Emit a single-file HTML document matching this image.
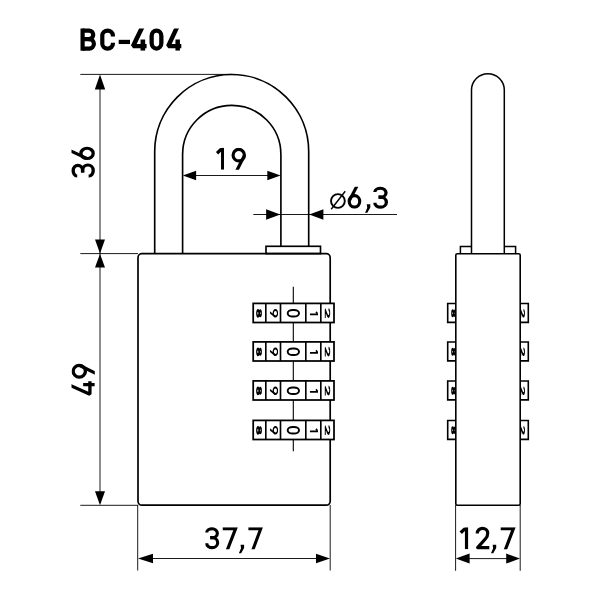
<!DOCTYPE html>
<html>
<head>
<meta charset="utf-8">
<title>BC-404</title>
<style>
html,body{margin:0;padding:0;background:#fff;}
body{width:600px;height:599px;overflow:hidden;font-family:"Liberation Sans",sans-serif;}
svg{display:block;}
svg text{font-family:"Liberation Sans",sans-serif;fill:#000;}
</style>
</head>
<body>
<svg width="600" height="599" viewBox="0 0 600 599">
<rect x="0" y="0" width="600" height="599" fill="#fff"/>
<defs><clipPath id="gc"><rect x="-20" y="0" width="140" height="100"/></clipPath><clipPath id="tabL"><rect x="440" y="0" width="15.4" height="599"/></clipPath></defs>
<!-- title -->
<g transform="translate(80.50,28.50) scale(0.2214,0.2220)"><g fill="none" stroke="#000" stroke-width="19.0" stroke-linecap="butt"><path d="M9.5,0 V100"/><path d="M9.5,9.5 H38.5 A19.0,19.0 0 0 1 38.5,47.5 H9.5"/><path d="M36.5,47.5 H39.0 A21.5,21.5 0 0 1 39.0,90.5 H9.5"/></g></g>
<g transform="translate(100.20,28.50) scale(0.2209,0.2220)"><g fill="none" stroke="#000" stroke-width="19.0" stroke-linecap="butt"><path d="M57.5,35.5 V31.5 A24.0,22 0 0 0 9.5,31.5 V68.5 A24.0,22 0 0 0 57.5,68.5 V64.5"/></g></g>
<g transform="translate(118.70,28.50) scale(0.2173,0.2220)"><g fill="none" stroke="#000" stroke-width="19.0" stroke-linecap="butt"><path d="M0,60.5 H52"/></g></g>
<g transform="translate(131.00,28.50) scale(0.2437,0.2220)"><g clip-path="url(#gc)"><g fill="none" stroke="#000" stroke-width="19.0" stroke-linecap="butt"><path d="M46.08,-6 L8.55,79 H64" stroke-linejoin="bevel"/><path d="M48.64,50 V100"/></g></g></g>
<g transform="translate(149.50,28.50) scale(0.2258,0.2220)"><g fill="none" stroke="#000" stroke-width="19.0" stroke-linecap="butt"><rect x="9.5" y="9.5" width="43.0" height="81.0" rx="21.5" ry="24.724999999999998"/></g></g>
<g transform="translate(166.20,28.50) scale(0.2359,0.2220)"><g clip-path="url(#gc)"><g fill="none" stroke="#000" stroke-width="19.0" stroke-linecap="butt"><path d="M46.08,-6 L8.55,79 H64" stroke-linejoin="bevel"/><path d="M48.64,50 V100"/></g></g></g>
<!-- extension lines (front, vertical dims) -->
<g stroke="#000" stroke-width="0.9" fill="none">
<line x1="80.3" y1="74.4" x2="232" y2="74.4"/>
<line x1="80.3" y1="253.6" x2="138" y2="253.6"/>
<line x1="80.3" y1="505.3" x2="138" y2="505.3"/>
<line x1="137.7" y1="505" x2="137.7" y2="570.5"/>
<line x1="330.2" y1="505" x2="330.2" y2="570.5"/>
<line x1="455.6" y1="505" x2="455.6" y2="570.8"/>
<line x1="520.2" y1="505" x2="520.2" y2="570.8"/>
</g>
<!-- dimension lines -->
<g stroke="#000" stroke-width="0.9" fill="none">
<line x1="100" y1="80" x2="100" y2="500"/>
<line x1="190" y1="175.5" x2="275" y2="175.5"/>
<line x1="253.3" y1="214.5" x2="397" y2="214.5"/>
<line x1="145" y1="558.5" x2="324" y2="558.5"/>
<line x1="462" y1="558.6" x2="514" y2="558.6"/>
</g>
<!-- arrows -->
<polygon points="100.00,74.60 94.80,89.60 105.20,89.60" fill="#000"/>
<polygon points="100.00,253.50 95.00,239.50 105.00,239.50" fill="#000"/>
<polygon points="100.00,253.90 95.00,267.40 105.00,267.40" fill="#000"/>
<polygon points="100.00,505.20 95.00,491.20 105.00,491.20" fill="#000"/>
<polygon points="182.80,175.50 196.10,170.70 196.10,180.30" fill="#000"/>
<polygon points="280.60,175.50 267.30,170.70 267.30,180.30" fill="#000"/>
<polygon points="280.30,214.50 266.10,209.20 266.10,219.80" fill="#000"/>
<polygon points="309.20,214.50 323.40,209.20 323.40,219.80" fill="#000"/>
<polygon points="138.00,558.50 153.00,553.70 153.00,563.30" fill="#000"/>
<polygon points="330.00,558.50 316.00,553.70 316.00,563.30" fill="#000"/>
<polygon points="455.80,558.60 469.60,553.60 469.60,563.60" fill="#000"/>
<polygon points="520.00,558.60 506.20,553.60 506.20,563.60" fill="#000"/>
<!-- dim texts -->
<g transform="translate(216.30,147.80) scale(0.2081,0.2200)"><g clip-path="url(#gc)"><g fill="none" stroke="#000" stroke-width="14.3" stroke-linecap="butt"><path d="M29.85,0 V100"/><path d="M24.700000000000003,5.362500000000001 L3.575,25" stroke-width="15.444000000000003"/></g></g></g><g transform="translate(231.50,147.80) scale(0.2231,0.2200)"><g clip-path="url(#gc)"><g fill="none" stroke="#000" stroke-width="14.3" stroke-linecap="butt"><ellipse cx="32.5" cy="33.45" rx="25.35" ry="26.3"/><path d="M57.550000000000004,35.45 L23.4,104"/></g></g></g>
<g transform="translate(347.60,186.70) scale(0.2210,0.2200)"><g clip-path="url(#gc)"><g fill="none" stroke="#000" stroke-width="14.3" stroke-linecap="butt"><ellipse cx="31.0" cy="66.55" rx="23.85" ry="26.3"/><path d="M7.45,64.55 L42.779999999999994,-4"/></g></g></g><g transform="translate(365.10,186.70) scale(0.2364,0.2200)"><g fill="none" stroke="#000" stroke-width="14.3" stroke-linecap="butt"><polygon points="7,80 22,80 22,95 9.5,118 0,118 9,96" fill="#000" stroke="none"/></g></g><g transform="translate(373.30,186.70) scale(0.2297,0.2200)"><g fill="none" stroke="#000" stroke-width="14.3" stroke-linecap="butt"><path d="M7.15,24.325000000000003 V23.325000000000003 A24.85,16.185000000000002 0 0 1 32.0,7.15 A23.35,20.175 0 0 1 32.0,47.5 H23.0"/><path d="M23.0,47.5 H32.0 A24.85,22.674999999999997 0 0 1 32.0,92.85 A24.85,17.674999999999997 0 0 1 7.15,74.175 V73.175"/></g></g>
<circle cx="337.9" cy="201" r="6.9" fill="none" stroke="#000" stroke-width="1.9"/>
<line x1="331.2" y1="209.2" x2="345.2" y2="191.2" stroke="#000" stroke-width="1.4"/>
<g transform="translate(205.25,527.20) scale(0.2188,0.2200)"><g fill="none" stroke="#000" stroke-width="14.3" stroke-linecap="butt"><path d="M7.15,24.325000000000003 V23.325000000000003 A24.85,16.185000000000002 0 0 1 32.0,7.15 A23.35,20.175 0 0 1 32.0,47.5 H23.0"/><path d="M23.0,47.5 H32.0 A24.85,22.674999999999997 0 0 1 32.0,92.85 A24.85,17.674999999999997 0 0 1 7.15,74.175 V73.175"/></g></g><g transform="translate(222.75,527.20) scale(0.2238,0.2200)"><g clip-path="url(#gc)"><g fill="none" stroke="#000" stroke-width="14.3" stroke-linecap="butt"><path d="M0,7.15 H57.135 L19.5,106" stroke-linejoin="miter" stroke-miterlimit="3"/></g></g></g><g transform="translate(238.90,527.20) scale(0.2364,0.2200)"><g fill="none" stroke="#000" stroke-width="14.3" stroke-linecap="butt"><polygon points="7,80 22,80 22,95 9.5,118 0,118 9,96" fill="#000" stroke="none"/></g></g><g transform="translate(248.40,527.20) scale(0.2154,0.2200)"><g clip-path="url(#gc)"><g fill="none" stroke="#000" stroke-width="14.3" stroke-linecap="butt"><path d="M0,7.15 H57.135 L19.5,106" stroke-linejoin="miter" stroke-miterlimit="3"/></g></g></g>
<g transform="translate(459.90,527.20) scale(0.2216,0.2200)"><g clip-path="url(#gc)"><g fill="none" stroke="#000" stroke-width="14.3" stroke-linecap="butt"><path d="M29.85,0 V100"/><path d="M24.700000000000003,5.362500000000001 L3.575,25" stroke-width="15.444000000000003"/></g></g></g><g transform="translate(475.70,527.20) scale(0.2230,0.2200)"><g fill="none" stroke="#000" stroke-width="14.3" stroke-linecap="butt"><path d="M7.15,28.15 V27.15 A23.35,22 0 0 1 53.85,27.15 C53.85,39.15 50.85,44.15 44.85,51.15 L8.65,92.85 H61" stroke-linejoin="round"/></g></g><g transform="translate(491.00,527.20) scale(0.2364,0.2200)"><g fill="none" stroke="#000" stroke-width="14.3" stroke-linecap="butt"><polygon points="7,80 22,80 22,95 9.5,118 0,118 9,96" fill="#000" stroke="none"/></g></g><g transform="translate(500.70,527.20) scale(0.2215,0.2200)"><g clip-path="url(#gc)"><g fill="none" stroke="#000" stroke-width="14.3" stroke-linecap="butt"><path d="M0,7.15 H57.135 L19.5,106" stroke-linejoin="miter" stroke-miterlimit="3"/></g></g></g>
<g transform="translate(71.5,178) rotate(-90)"><g transform="translate(0.40,0.00) scale(0.2219,0.2340)"><g fill="none" stroke="#000" stroke-width="14.3" stroke-linecap="butt"><path d="M7.15,24.325000000000003 V23.325000000000003 A24.85,16.185000000000002 0 0 1 32.0,7.15 A23.35,20.175 0 0 1 32.0,47.5 H23.0"/><path d="M23.0,47.5 H32.0 A24.85,22.674999999999997 0 0 1 32.0,92.85 A24.85,17.674999999999997 0 0 1 7.15,74.175 V73.175"/></g></g><g transform="translate(17.90,0.00) scale(0.2161,0.2340)"><g clip-path="url(#gc)"><g fill="none" stroke="#000" stroke-width="14.3" stroke-linecap="butt"><ellipse cx="31.0" cy="66.55" rx="23.85" ry="26.3"/><path d="M7.45,64.55 L42.779999999999994,-4"/></g></g></g></g>
<g transform="translate(71.5,396) rotate(-90)"><g transform="translate(0.20,0.00) scale(0.2273,0.2330)"><g clip-path="url(#gc)"><g fill="none" stroke="#000" stroke-width="14.3" stroke-linecap="butt"><path d="M46.08,-6 L6.4350000000000005,79 H64" stroke-linejoin="bevel"/><path d="M48.64,50 V100"/></g></g></g><g transform="translate(17.25,0.00) scale(0.2308,0.2330)"><g clip-path="url(#gc)"><g fill="none" stroke="#000" stroke-width="14.3" stroke-linecap="butt"><ellipse cx="32.5" cy="33.45" rx="25.35" ry="26.3"/><path d="M57.550000000000004,35.45 L23.4,104"/></g></g></g></g>
<!-- front view -->
<g stroke="#000" stroke-width="1.65" fill="none">
<path d="M154.7,253.5 V151.5 A77,77 0 0 1 308.7,151.5 V246.3"/>
<path d="M182.6,253.5 V154.5 A49.15,49.15 0 0 1 280.9,154.5 V246.3"/>
<rect x="266" y="246.3" width="54.5" height="7.3" fill="#fff"/>
<rect x="138" y="253.7" width="192.2" height="251.5" rx="4" ry="4" stroke-width="1.7"/>
</g>
<g stroke="#000" stroke-width="1.1">
<line x1="293.3" y1="286.7" x2="293.3" y2="451.3"/>
</g>
<rect x="253.2" y="303.4" width="80.80000000000001" height="19.1" fill="#fff" stroke="#000" stroke-width="1.75"/>
<line x1="265.8" y1="303.4" x2="265.8" y2="322.5" stroke="#000" stroke-width="1.65"/>
<line x1="280.5" y1="303.4" x2="280.5" y2="322.5" stroke="#000" stroke-width="1.65"/>
<line x1="305.8" y1="303.4" x2="305.8" y2="322.5" stroke="#000" stroke-width="1.65"/>
<line x1="320.8" y1="303.4" x2="320.8" y2="322.5" stroke="#000" stroke-width="1.65"/>
<g transform="translate(261.9,308.90) rotate(90)"><g transform="translate(0.00,0.00) scale(0.1375,0.0580)"><g fill="none" stroke="#000" stroke-width="22" stroke-linecap="butt"><ellipse cx="32.0" cy="29.0" rx="18.5" ry="18.0"/><ellipse cx="32.0" cy="68.0" rx="21.0" ry="21.0"/></g></g></g>
<g transform="translate(278.2,309.00) rotate(90)"><g transform="translate(0.00,0.00) scale(0.1323,0.0830)"><g clip-path="url(#gc)"><g fill="none" stroke="#000" stroke-width="15" stroke-linecap="butt"><ellipse cx="32.5" cy="33.8" rx="25.0" ry="26.3"/><path d="M57.2,35.8 L23.4,104"/></g></g></g></g>
<g transform="translate(300.0,309.00) rotate(90)"><g transform="translate(0.00,0.00) scale(0.1387,0.1330)"><g fill="none" stroke="#000" stroke-width="14.5" stroke-linecap="butt"><rect x="7.25" y="7.25" width="47.5" height="85.5" rx="23.75" ry="38.0"/></g></g></g>
<g transform="translate(318.0,311.50) rotate(90)"><g transform="translate(0.00,0.00) scale(0.1027,0.0820)"><g clip-path="url(#gc)"><g fill="none" stroke="#000" stroke-width="17" stroke-linecap="butt"><path d="M28.5,0 V100"/><path d="M22.0,6.375 L4.25,25" stroke-width="18.36"/></g></g></g></g>
<g transform="translate(330.1,308.20) rotate(90)"><g transform="translate(0.00,0.00) scale(0.1607,0.0530)"><g fill="none" stroke="#000" stroke-width="18" stroke-linecap="butt"><path d="M9.0,30.0 V29.0 A21.5,22 0 0 1 52.0,29.0 C52.0,41.0 49.0,46.0 43.0,53.0 L10.5,91.0 H61" stroke-linejoin="round"/></g></g></g>
<rect x="253.2" y="341.9" width="80.80000000000001" height="19.1" fill="#fff" stroke="#000" stroke-width="1.75"/>
<line x1="265.8" y1="341.9" x2="265.8" y2="361.0" stroke="#000" stroke-width="1.65"/>
<line x1="280.5" y1="341.9" x2="280.5" y2="361.0" stroke="#000" stroke-width="1.65"/>
<line x1="305.8" y1="341.9" x2="305.8" y2="361.0" stroke="#000" stroke-width="1.65"/>
<line x1="320.8" y1="341.9" x2="320.8" y2="361.0" stroke="#000" stroke-width="1.65"/>
<g transform="translate(261.9,347.40) rotate(90)"><g transform="translate(0.00,0.00) scale(0.1375,0.0580)"><g fill="none" stroke="#000" stroke-width="22" stroke-linecap="butt"><ellipse cx="32.0" cy="29.0" rx="18.5" ry="18.0"/><ellipse cx="32.0" cy="68.0" rx="21.0" ry="21.0"/></g></g></g>
<g transform="translate(278.2,347.50) rotate(90)"><g transform="translate(0.00,0.00) scale(0.1323,0.0830)"><g clip-path="url(#gc)"><g fill="none" stroke="#000" stroke-width="15" stroke-linecap="butt"><ellipse cx="32.5" cy="33.8" rx="25.0" ry="26.3"/><path d="M57.2,35.8 L23.4,104"/></g></g></g></g>
<g transform="translate(300.0,347.50) rotate(90)"><g transform="translate(0.00,0.00) scale(0.1387,0.1330)"><g fill="none" stroke="#000" stroke-width="14.5" stroke-linecap="butt"><rect x="7.25" y="7.25" width="47.5" height="85.5" rx="23.75" ry="38.0"/></g></g></g>
<g transform="translate(318.0,350.00) rotate(90)"><g transform="translate(0.00,0.00) scale(0.1027,0.0820)"><g clip-path="url(#gc)"><g fill="none" stroke="#000" stroke-width="17" stroke-linecap="butt"><path d="M28.5,0 V100"/><path d="M22.0,6.375 L4.25,25" stroke-width="18.36"/></g></g></g></g>
<g transform="translate(330.1,346.70) rotate(90)"><g transform="translate(0.00,0.00) scale(0.1607,0.0530)"><g fill="none" stroke="#000" stroke-width="18" stroke-linecap="butt"><path d="M9.0,30.0 V29.0 A21.5,22 0 0 1 52.0,29.0 C52.0,41.0 49.0,46.0 43.0,53.0 L10.5,91.0 H61" stroke-linejoin="round"/></g></g></g>
<rect x="253.2" y="380.9" width="80.80000000000001" height="19.1" fill="#fff" stroke="#000" stroke-width="1.75"/>
<line x1="265.8" y1="380.9" x2="265.8" y2="400.0" stroke="#000" stroke-width="1.65"/>
<line x1="280.5" y1="380.9" x2="280.5" y2="400.0" stroke="#000" stroke-width="1.65"/>
<line x1="305.8" y1="380.9" x2="305.8" y2="400.0" stroke="#000" stroke-width="1.65"/>
<line x1="320.8" y1="380.9" x2="320.8" y2="400.0" stroke="#000" stroke-width="1.65"/>
<g transform="translate(261.9,386.40) rotate(90)"><g transform="translate(0.00,0.00) scale(0.1375,0.0580)"><g fill="none" stroke="#000" stroke-width="22" stroke-linecap="butt"><ellipse cx="32.0" cy="29.0" rx="18.5" ry="18.0"/><ellipse cx="32.0" cy="68.0" rx="21.0" ry="21.0"/></g></g></g>
<g transform="translate(278.2,386.50) rotate(90)"><g transform="translate(0.00,0.00) scale(0.1323,0.0830)"><g clip-path="url(#gc)"><g fill="none" stroke="#000" stroke-width="15" stroke-linecap="butt"><ellipse cx="32.5" cy="33.8" rx="25.0" ry="26.3"/><path d="M57.2,35.8 L23.4,104"/></g></g></g></g>
<g transform="translate(300.0,386.50) rotate(90)"><g transform="translate(0.00,0.00) scale(0.1387,0.1330)"><g fill="none" stroke="#000" stroke-width="14.5" stroke-linecap="butt"><rect x="7.25" y="7.25" width="47.5" height="85.5" rx="23.75" ry="38.0"/></g></g></g>
<g transform="translate(318.0,389.00) rotate(90)"><g transform="translate(0.00,0.00) scale(0.1027,0.0820)"><g clip-path="url(#gc)"><g fill="none" stroke="#000" stroke-width="17" stroke-linecap="butt"><path d="M28.5,0 V100"/><path d="M22.0,6.375 L4.25,25" stroke-width="18.36"/></g></g></g></g>
<g transform="translate(330.1,385.70) rotate(90)"><g transform="translate(0.00,0.00) scale(0.1607,0.0530)"><g fill="none" stroke="#000" stroke-width="18" stroke-linecap="butt"><path d="M9.0,30.0 V29.0 A21.5,22 0 0 1 52.0,29.0 C52.0,41.0 49.0,46.0 43.0,53.0 L10.5,91.0 H61" stroke-linejoin="round"/></g></g></g>
<rect x="253.2" y="420.4" width="80.80000000000001" height="19.1" fill="#fff" stroke="#000" stroke-width="1.75"/>
<line x1="265.8" y1="420.4" x2="265.8" y2="439.5" stroke="#000" stroke-width="1.65"/>
<line x1="280.5" y1="420.4" x2="280.5" y2="439.5" stroke="#000" stroke-width="1.65"/>
<line x1="305.8" y1="420.4" x2="305.8" y2="439.5" stroke="#000" stroke-width="1.65"/>
<line x1="320.8" y1="420.4" x2="320.8" y2="439.5" stroke="#000" stroke-width="1.65"/>
<g transform="translate(261.9,425.90) rotate(90)"><g transform="translate(0.00,0.00) scale(0.1375,0.0580)"><g fill="none" stroke="#000" stroke-width="22" stroke-linecap="butt"><ellipse cx="32.0" cy="29.0" rx="18.5" ry="18.0"/><ellipse cx="32.0" cy="68.0" rx="21.0" ry="21.0"/></g></g></g>
<g transform="translate(278.2,426.00) rotate(90)"><g transform="translate(0.00,0.00) scale(0.1323,0.0830)"><g clip-path="url(#gc)"><g fill="none" stroke="#000" stroke-width="15" stroke-linecap="butt"><ellipse cx="32.5" cy="33.8" rx="25.0" ry="26.3"/><path d="M57.2,35.8 L23.4,104"/></g></g></g></g>
<g transform="translate(300.0,426.00) rotate(90)"><g transform="translate(0.00,0.00) scale(0.1387,0.1330)"><g fill="none" stroke="#000" stroke-width="14.5" stroke-linecap="butt"><rect x="7.25" y="7.25" width="47.5" height="85.5" rx="23.75" ry="38.0"/></g></g></g>
<g transform="translate(318.0,428.50) rotate(90)"><g transform="translate(0.00,0.00) scale(0.1027,0.0820)"><g clip-path="url(#gc)"><g fill="none" stroke="#000" stroke-width="17" stroke-linecap="butt"><path d="M28.5,0 V100"/><path d="M22.0,6.375 L4.25,25" stroke-width="18.36"/></g></g></g></g>
<g transform="translate(330.1,425.20) rotate(90)"><g transform="translate(0.00,0.00) scale(0.1607,0.0530)"><g fill="none" stroke="#000" stroke-width="18" stroke-linecap="butt"><path d="M9.0,30.0 V29.0 A21.5,22 0 0 1 52.0,29.0 C52.0,41.0 49.0,46.0 43.0,53.0 L10.5,91.0 H61" stroke-linejoin="round"/></g></g></g>
<!-- side view -->
<g stroke="#000" stroke-width="1.5" fill="none">
<path d="M471.5,253.5 V90.1 A16.4,16.4 0 0 1 504.3,90.1 V253.5"/>
<path d="M471.5,246.4 H460.4 V253.6 M504.3,246.4 H515.6 V253.6"/>
<rect x="455.8" y="253.7" width="64.4" height="251.5" rx="1.5" ry="1.5" stroke-width="1.6"/>
</g>
<path d="M455.8,303.5 H447.7 V322.4 H455.8" fill="none" stroke="#000" stroke-width="1.6"/>
<path d="M520.2,303.5 H528.3 V322.4 H520.2" fill="none" stroke="#000" stroke-width="1.6"/>
<g clip-path="url(#tabL)"><g transform="translate(455.4,309.20) rotate(90)"><g transform="translate(0.00,0.00) scale(0.1250,0.0420)"><g fill="none" stroke="#000" stroke-width="24" stroke-linecap="butt"><ellipse cx="32.0" cy="29.5" rx="17.5" ry="17.5"/><ellipse cx="32.0" cy="67.5" rx="20.0" ry="20.5"/></g></g></g></g>
<g transform="translate(524.9,309.00) rotate(90)"><g transform="translate(0.00,0.00) scale(0.1410,0.0460)"><g fill="none" stroke="#000" stroke-width="20" stroke-linecap="butt"><path d="M10.0,31.0 V30.0 A20.5,22 0 0 1 51.0,30.0 C51.0,42.0 48.0,47.0 42.0,54.0 L11.5,90.0 H61" stroke-linejoin="round"/></g></g></g>
<path d="M455.8,342.0 H447.7 V360.9 H455.8" fill="none" stroke="#000" stroke-width="1.6"/>
<path d="M520.2,342.0 H528.3 V360.9 H520.2" fill="none" stroke="#000" stroke-width="1.6"/>
<g clip-path="url(#tabL)"><g transform="translate(455.4,347.70) rotate(90)"><g transform="translate(0.00,0.00) scale(0.1250,0.0420)"><g fill="none" stroke="#000" stroke-width="24" stroke-linecap="butt"><ellipse cx="32.0" cy="29.5" rx="17.5" ry="17.5"/><ellipse cx="32.0" cy="67.5" rx="20.0" ry="20.5"/></g></g></g></g>
<g transform="translate(524.9,347.50) rotate(90)"><g transform="translate(0.00,0.00) scale(0.1410,0.0460)"><g fill="none" stroke="#000" stroke-width="20" stroke-linecap="butt"><path d="M10.0,31.0 V30.0 A20.5,22 0 0 1 51.0,30.0 C51.0,42.0 48.0,47.0 42.0,54.0 L11.5,90.0 H61" stroke-linejoin="round"/></g></g></g>
<path d="M455.8,381.0 H447.7 V399.9 H455.8" fill="none" stroke="#000" stroke-width="1.6"/>
<path d="M520.2,381.0 H528.3 V399.9 H520.2" fill="none" stroke="#000" stroke-width="1.6"/>
<g clip-path="url(#tabL)"><g transform="translate(455.4,386.70) rotate(90)"><g transform="translate(0.00,0.00) scale(0.1250,0.0420)"><g fill="none" stroke="#000" stroke-width="24" stroke-linecap="butt"><ellipse cx="32.0" cy="29.5" rx="17.5" ry="17.5"/><ellipse cx="32.0" cy="67.5" rx="20.0" ry="20.5"/></g></g></g></g>
<g transform="translate(524.9,386.50) rotate(90)"><g transform="translate(0.00,0.00) scale(0.1410,0.0460)"><g fill="none" stroke="#000" stroke-width="20" stroke-linecap="butt"><path d="M10.0,31.0 V30.0 A20.5,22 0 0 1 51.0,30.0 C51.0,42.0 48.0,47.0 42.0,54.0 L11.5,90.0 H61" stroke-linejoin="round"/></g></g></g>
<path d="M455.8,420.5 H447.7 V439.4 H455.8" fill="none" stroke="#000" stroke-width="1.6"/>
<path d="M520.2,420.5 H528.3 V439.4 H520.2" fill="none" stroke="#000" stroke-width="1.6"/>
<g clip-path="url(#tabL)"><g transform="translate(455.4,426.20) rotate(90)"><g transform="translate(0.00,0.00) scale(0.1250,0.0420)"><g fill="none" stroke="#000" stroke-width="24" stroke-linecap="butt"><ellipse cx="32.0" cy="29.5" rx="17.5" ry="17.5"/><ellipse cx="32.0" cy="67.5" rx="20.0" ry="20.5"/></g></g></g></g>
<g transform="translate(524.9,426.00) rotate(90)"><g transform="translate(0.00,0.00) scale(0.1410,0.0460)"><g fill="none" stroke="#000" stroke-width="20" stroke-linecap="butt"><path d="M10.0,31.0 V30.0 A20.5,22 0 0 1 51.0,30.0 C51.0,42.0 48.0,47.0 42.0,54.0 L11.5,90.0 H61" stroke-linejoin="round"/></g></g></g>
</svg>
</body>
</html>
